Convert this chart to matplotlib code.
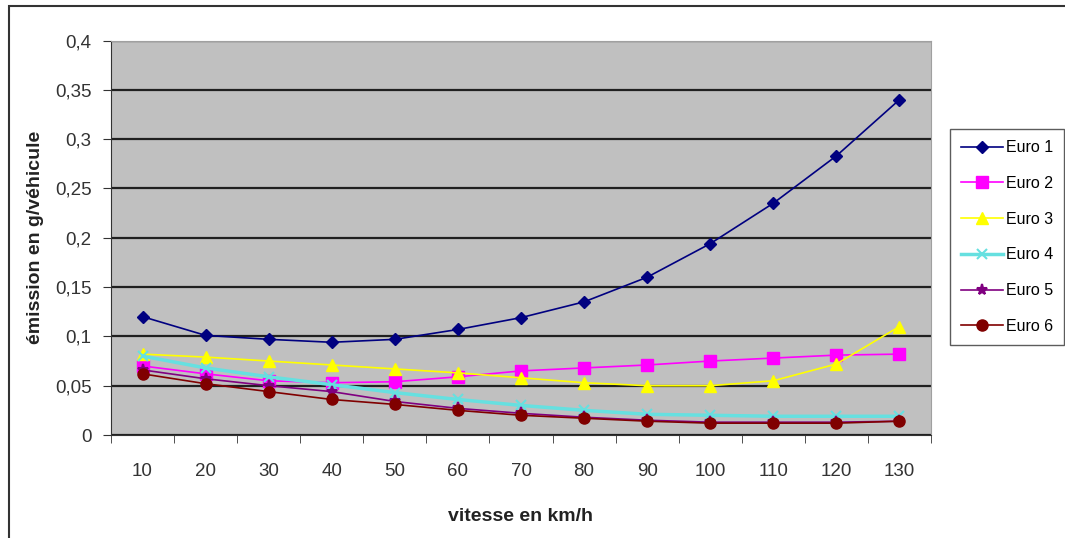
import matplotlib.pyplot as plt
import numpy as np
from matplotlib.patches import Rectangle
from matplotlib.ticker import FuncFormatter, FixedLocator

plt.rcParams['font.family'] = ['Liberation Sans', 'DejaVu Sans']

vitesse = [10, 20, 30, 40, 50, 60, 70, 80, 90, 100, 110, 120, 130]
euro1 = [0.120, 0.101, 0.097, 0.094, 0.097, 0.107, 0.119, 0.135, 0.160, 0.194, 0.235, 0.283, 0.340]
euro2 = [0.070, 0.062, 0.055, 0.053, 0.054, 0.059, 0.065, 0.068, 0.071, 0.075, 0.078, 0.081, 0.082]
euro3 = [0.082, 0.079, 0.075, 0.071, 0.067, 0.063, 0.058, 0.053, 0.050, 0.050, 0.055, 0.072, 0.110]
euro4 = [0.080, 0.068, 0.059, 0.051, 0.043, 0.036, 0.030, 0.025, 0.021, 0.020, 0.019, 0.019, 0.019]
euro5 = [0.066, 0.057, 0.050, 0.044, 0.034, 0.027, 0.022, 0.018, 0.015, 0.013, 0.013, 0.013, 0.014]
euro6 = [0.062, 0.052, 0.044, 0.036, 0.031, 0.025, 0.020, 0.017, 0.014, 0.012, 0.012, 0.012, 0.014]

series = [
    ('Euro 1', euro1, '#000080', 'D', 6, 1.2),
    ('Euro 2', euro2, '#ff00ff', 's', 8, 1.2),
    ('Euro 3', euro3, '#ffff00', '^', 8, 1.2),
    ('Euro 4', euro4, '#66e0e0', 'x', 7, 2.5),
    ('Euro 5', euro5, '#800080', '*', 8, 1.2),
    ('Euro 6', euro6, '#800000', 'o', 8, 1.2),
]

fig = plt.figure(figsize=(10.65, 5.38), dpi=100)
ax = fig.add_axes([111 / 1065, 1 - 435 / 538, 820 / 1065, 394.5 / 538])
ax.set_facecolor('#c0c0c0')

x = np.arange(len(vitesse))
for name, vals, col, mk, ms, lw in series:
    ax.plot(x, vals, color=col, marker=mk, markersize=ms, linewidth=lw,
            markeredgecolor=col, markeredgewidth=1.5 if mk in ('x', '*') else 1,
            label=name)

ax.set_xlim(-0.5, len(vitesse) - 0.5)
ax.set_ylim(0, 0.4)
ax.set_yticks(np.arange(0, 0.401, 0.05))
ax.yaxis.set_major_formatter(FuncFormatter(lambda v, p: ('%g' % round(v, 2)).replace('.', ',')))
ax.grid(axis='y', color='#202020', linewidth=1.6)
ax.set_axisbelow(True)

ax.set_xticks(x)
ax.set_xticklabels([str(v) for v in vitesse])
ax.xaxis.set_minor_locator(FixedLocator(np.arange(-0.5, len(vitesse), 1.0)))
ax.tick_params(axis='x', which='major', length=0, pad=20, labelsize=13.5, labelcolor='#333333')
ax.tick_params(axis='x', which='minor', length=6, color='#333333')
ax.tick_params(axis='y', length=6, labelsize=13.5, labelcolor='#333333', color='#333333', pad=8)

for s in ['top', 'right']:
    ax.spines[s].set_color('#a0a0a0')
ax.spines['left'].set_color('#333333')
ax.spines['bottom'].set_color('#333333')

ax.set_xlabel('vitesse en km/h', fontsize=14, fontweight='bold', color='#222222', labelpad=20)
ax.set_ylabel('émission en g/véhicule', fontsize=14, fontweight='bold', color='#222222', labelpad=8)

leg = fig.legend(loc='upper left', bbox_to_anchor=(950 / 1065, 1 - 129 / 538),
                 fontsize=11.5, frameon=True, fancybox=False, edgecolor='#333333',
                 handlelength=2.6, borderpad=0.7, labelspacing=1.3, handletextpad=0.2,
                 borderaxespad=0)
leg.get_frame().set_linewidth(1.0)

# outer chart border
fig.patches.append(Rectangle((9 / 1065, -0.1), 1.2, 1 - 6 / 538 + 0.1,
                             transform=fig.transFigure, fill=False,
                             edgecolor='#333333', linewidth=1.5))

fig.savefig('out.png', dpi=100)
